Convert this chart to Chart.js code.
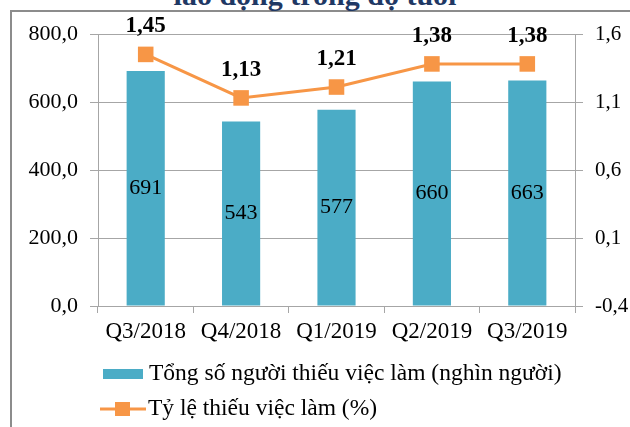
<!DOCTYPE html>
<html>
<head>
<meta charset="utf-8">
<script src="https://cdn.jsdelivr.net/npm/chart.js@4.4.1/dist/chart.umd.min.js"></script>
<style>
  html, body { margin: 0; padding: 0; background: #fff; }
  #wrap { position: relative; width: 630px; height: 427px; overflow: hidden; background: #fff; }
  #frame { position: absolute; left: 10px; top: 10px; width: 700px; height: 500px; border: 2px solid #8c8c8c; box-sizing: border-box; }
  #title { position: absolute; left: 0; width: 630px; top: -20px; text-align: center; font: bold 30px/30px 'Liberation Serif', 'Times New Roman', serif; color: #1f3864; white-space: nowrap; }
  #c { position: absolute; left: 0; top: 0; }
</style>
</head>
<body>
<div id="wrap">
  <div id="frame"></div>
  <div id="title">lao động trong độ tuổi</div>
  <canvas id="c" width="630" height="427"></canvas>
</div>
<script>
const categories = ['Q3/2018', 'Q4/2018', 'Q1/2019', 'Q2/2019', 'Q3/2019'];
const underemployedThousands = [691, 543, 577, 660, 663];
const underemploymentRate = [1.45, 1.13, 1.21, 1.38, 1.38];
const leftTicks = [0, 200, 400, 600, 800];
const rightTicks = [-0.4, 0.1, 0.6, 1.1, 1.6];
const seriesNames = ['Tổng số người thiếu việc làm (nghìn người)', 'Tỷ lệ thiếu việc làm (%)'];

const FONT = "'Liberation Serif', 'Times New Roman', serif";
const BAR = '#4bacc6';
const LINE = '#f79646';
const GRID = '#a6a6a6';

Chart.defaults.font.family = FONT;
Chart.defaults.color = '#000';

const labelsPlugin = {
  id: 'valueLabels',
  afterDatasetsDraw(chart) {
    const ctx = chart.ctx;
    ctx.save();
    ctx.fillStyle = '#000';
    ctx.textAlign = 'center';
    ctx.textBaseline = 'middle';
    chart.data.datasets.forEach((ds, di) => {
      const meta = chart.getDatasetMeta(di);
      meta.data.forEach((el, i) => {
        const v = ds.data[i];
        if (ds.type === 'bar') {
          ctx.font = '22px ' + FONT;
          ctx.fillText(String(v), el.x, (el.y + el.base) / 2);
        } else {
          ctx.font = 'bold 23px ' + FONT;
          ctx.fillText(v.toFixed(2).replace('.', ','), el.x, el.y - 28);
        }
      });
    });
    ctx.restore();
  }
};

const legendPlugin = {
  id: 'customLegend',
  afterDraw(chart) {
    const ctx = chart.ctx;
    const a = chart.chartArea;
    const x0 = a.left + 2;
    const y1 = a.bottom + 68;
    const y2 = a.bottom + 103;
    ctx.save();
    ctx.fillStyle = BAR;
    ctx.fillRect(x0 + 3, y1 - 5, 40, 10);
    ctx.strokeStyle = LINE;
    ctx.lineWidth = 3;
    ctx.beginPath();
    ctx.moveTo(x0, y2);
    ctx.lineTo(x0 + 46, y2);
    ctx.stroke();
    ctx.fillStyle = LINE;
    ctx.fillRect(x0 + 15, y2 - 7, 15, 14);
    ctx.fillStyle = '#000';
    ctx.font = '23.5px ' + FONT;
    ctx.textAlign = 'left';
    ctx.textBaseline = 'middle';
    ctx.fillText(seriesNames[0], x0 + 49, y1);
    ctx.fillText(seriesNames[1], x0 + 48, y2);
    ctx.restore();
  }
};

new Chart(document.getElementById('c'), {
  data: {
    labels: categories,
    datasets: [
      {
        type: 'bar',
        label: seriesNames[0],
        data: underemployedThousands,
        backgroundColor: BAR,
        borderWidth: 0,
        yAxisID: 'y',
        categoryPercentage: 1,
        barPercentage: 0.4,
        order: 2
      },
      {
        type: 'line',
        label: seriesNames[1],
        data: underemploymentRate,
        borderColor: LINE,
        backgroundColor: LINE,
        borderWidth: 3,
        tension: 0,
        pointStyle: 'rect',
        pointRadius: 11,
        pointBorderWidth: 0,
        yAxisID: 'y1',
        order: 1
      }
    ]
  },
  options: {
    responsive: false,
    animation: false,
    layout: { padding: { top: 34, left: 0, right: 0, bottom: 0 } },
    plugins: { legend: { display: false }, tooltip: { enabled: false }, title: { display: false } },
    scales: {
      x: {
        offset: true,
        grid: { offset: true, drawOnChartArea: false, tickLength: 7, color: GRID },
        border: { color: GRID },
        ticks: { font: { size: 23 }, padding: 5, color: '#000', maxRotation: 0 },
        afterFit(s) { s.height = 121; }
      },
      y: {
        position: 'left',
        min: 0, max: 800,
        afterBuildTicks(s) { s.ticks = leftTicks.map(v => ({ value: v })); },
        grid: { color: GRID, tickLength: 8 },
        border: { color: GRID },
        ticks: { font: { size: 22 }, padding: 12, color: '#000', callback: v => v.toFixed(1).replace('.', ',') },
        afterFit(s) { s.width = 98; }
      },
      y1: {
        position: 'right',
        min: -0.4, max: 1.6,
        afterBuildTicks(s) { s.ticks = rightTicks.map(v => ({ value: v })); },
        grid: { drawOnChartArea: false, color: GRID, tickLength: 8 },
        border: { color: GRID },
        ticks: { font: { size: 21 }, padding: 12, color: '#000', callback: v => v.toFixed(1).replace('.', ',') },
        afterFit(s) { s.width = 55; }
      }
    }
  },
  plugins: [labelsPlugin, legendPlugin]
});
</script>
</body>
</html>
